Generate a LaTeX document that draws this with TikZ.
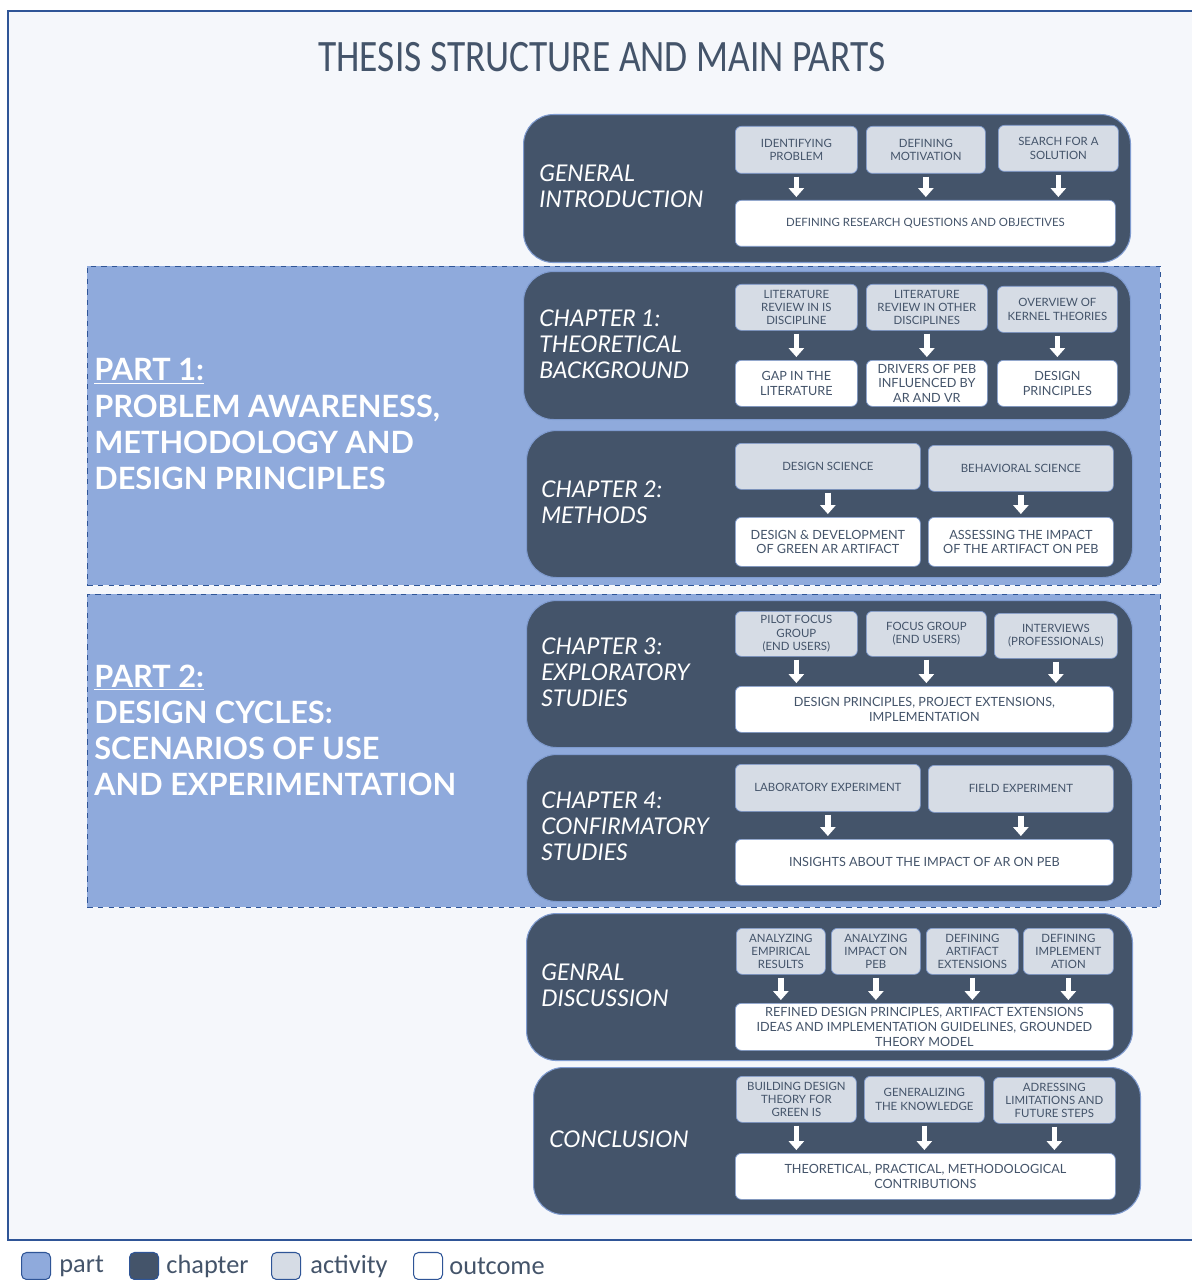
\documentclass[tikz,border=0pt]{standalone}
\usepackage{fontspec}
\setmainfont{Lato}
\newfontfamily\legendfont{Carlito}
\usepackage{tikz}
\usetikzlibrary{calc}
\usetikzlibrary{arrows.meta}
\usetikzlibrary{positioning}

\definecolor{partBlue}{HTML}{8FAADC}
\definecolor{chapterSlate}{HTML}{44546A}
\definecolor{activityGrey}{HTML}{D6DCE5}
\definecolor{frameBlue}{HTML}{2F5597}
\definecolor{paperTint}{HTML}{F5F7FB}
\definecolor{edgeBlue}{HTML}{7F9BCF}

\def\px{0.02cm}

\tikzset{
	sized/.style 2 args={minimum width=#1*\px, minimum height=#2*\px, inner sep=0pt, anchor=north west},
	chapterBox/.style={fill=chapterSlate, draw=edgeBlue, line width=0.6pt, rounded corners=0.6cm},
	activityBox/.style={fill=activityGrey, draw=edgeBlue, line width=0.4pt, rounded corners=0.12cm, text=chapterSlate, align=center, font=\fontsize{6.5}{7.6}\selectfont},
	outcomeBox/.style={fill=white, draw=edgeBlue, line width=0.4pt, rounded corners=0.12cm, text=chapterSlate, align=center, font=\fontsize{7.2}{8.4}\selectfont},
	chapterLabel/.style={text=white, anchor=west, inner sep=0pt, align=left, font=\itshape\fontsize{13.1}{14.8}\selectfont},
	partLabel/.style={text=white, anchor=west, inner sep=0pt, align=left, font=\bfseries\fontsize{17.5}{20.5}\selectfont},
	partArea/.style={fill=partBlue, draw=frameBlue, dashed, line width=0.5pt},
	flow/.style={draw=white, line width=3pt, -{Triangle[width=8.5pt,length=5pt]}, shorten <=0.06cm, shorten >=0.06cm},
	legendKey/.style={minimum width=29*\px, minimum height=27*\px, inner sep=0pt, rounded corners=0.1cm, draw=frameBlue, line width=0.6pt, anchor=west},
	legendText/.style={text=chapterSlate, inner sep=0pt, anchor=west, font=\legendfont\fontsize{15}{17}\selectfont}
}

\begin{document}
\begin{tikzpicture}[x=\px, y=-\px]

	\useasboundingbox (0,0) rectangle (1192,1280);

	% frame and title
	\fill [white] (0,0) rectangle (1192,1280);
	\draw [frameBlue, fill=paperTint, line width=0.6pt] (8,11) rectangle (1210,1240);
	\node (title) at (602,57) {\legendfont\color{chapterSlate}\fontsize{21.3}{24}\selectfont\scalebox{1}[1.2]{THESIS STRUCTURE AND MAIN PARTS}};

	% part areas
	\node [partArea, sized={1073}{319}] (partOneArea) at (87,266) {};
	\node [partArea, sized={1073}{313}] (partTwoArea) at (87,594) {};
	\node [partLabel] (partOneLabel) at (94,424) {\underline{PART 1:}\\PROBLEM AWARENESS,\\METHODOLOGY AND\\DESIGN PRINCIPLES};
	\node [partLabel] (partTwoLabel) at (94,730) {\underline{PART 2:}\\DESIGN CYCLES:\\SCENARIOS OF USE\\AND EXPERIMENTATION};

	% chapter boxes
	\node [chapterBox, sized={607}{148}] (introBox) at (523,114) {};
	\node [chapterBox, sized={607}{148}] (chOneBox) at (523,271) {};
	\node [chapterBox, sized={606}{147}] (chTwoBox) at (526,430) {};
	\node [chapterBox, sized={606}{147}] (chThreeBox) at (526,600) {};
	\node [chapterBox, sized={606}{147}] (chFourBox) at (526,754) {};
	\node [chapterBox, sized={606}{147}] (discussionBox) at (526,913) {};
	\node [chapterBox, sized={607}{147}] (conclusionBox) at (533,1067) {};

	% chapter labels
	\node [chapterLabel] (introLabel) at (539,186) {GENERAL\\INTRODUCTION};
	\node [chapterLabel] (chOneLabel) at (539,344) {CHAPTER 1:\\THEORETICAL\\BACKGROUND};
	\node [chapterLabel] (chTwoLabel) at (541,502) {CHAPTER 2:\\METHODS};
	\node [chapterLabel] (chThreeLabel) at (541,672) {CHAPTER 3:\\EXPLORATORY\\STUDIES};
	\node [chapterLabel] (chFourLabel) at (541,826) {CHAPTER 4:\\CONFIRMATORY\\STUDIES};
	\node [chapterLabel] (discussionLabel) at (541,985) {GENRAL\\DISCUSSION};
	\node [chapterLabel] (conclusionLabel) at (549,1139) {CONCLUSION};

	% general introduction
	\node [activityBox, sized={122}{47}] (introActA) at (735,126) {IDENTIFYING\\PROBLEM};
	\node [activityBox, sized={119}{47}] (introActB) at (866,126) {DEFINING\\MOTIVATION};
	\node [activityBox, sized={120}{46}] (introActC) at (998,125) {SEARCH FOR A\\SOLUTION};
	\node [outcomeBox, sized={380}{46}, font=\fontsize{6.5}{7.6}\selectfont] (introOut) at (735,200) {DEFINING RESEARCH QUESTIONS AND OBJECTIVES};
	\draw [flow] (introActA) -- (introActA |- introOut.north);
	\draw [flow] (introActB) -- (introActB |- introOut.north);
	\draw [flow] (introActC) -- (introActC |- introOut.north);

	% chapter 1
	\node [activityBox, sized={122}{46}] (chOneActA) at (735,284) {LITERATURE\\REVIEW IN IS\\DISCIPLINE};
	\node [activityBox, sized={121}{46}] (chOneActB) at (866,284) {LITERATURE\\REVIEW IN OTHER\\DISCIPLINES};
	\node [activityBox, sized={120}{46}] (chOneActC) at (997,286) {OVERVIEW OF\\KERNEL THEORIES};
	\node [outcomeBox, sized={122}{46}] (chOneOutA) at (735,360) {GAP IN THE\\LITERATURE};
	\node [outcomeBox, sized={121}{46}] (chOneOutB) at (866,360) {DRIVERS OF PEB\\INFLUENCED BY\\AR AND VR};
	\node [outcomeBox, sized={120}{46}] (chOneOutC) at (997,360) {DESIGN\\PRINCIPLES};
	\draw [flow] (chOneActA) -- (chOneOutA);
	\draw [flow] (chOneActB) -- (chOneOutB);
	\draw [flow] (chOneActC) -- (chOneOutC);

	% chapter 2
	\node [activityBox, sized={185}{46}] (chTwoActA) at (735,443) {DESIGN SCIENCE};
	\node [activityBox, sized={185}{46}] (chTwoActB) at (928,445) {BEHAVIORAL SCIENCE};
	\node [outcomeBox, sized={185}{49}] (chTwoOutA) at (735,517) {DESIGN \& DEVELOPMENT\\OF GREEN AR ARTIFACT};
	\node [outcomeBox, sized={185}{49}] (chTwoOutB) at (928,517) {ASSESSING THE IMPACT\\OF THE ARTIFACT ON PEB};
	\draw [flow] (chTwoActA) -- (chTwoOutA);
	\draw [flow] (chTwoActB) -- (chTwoOutB);

	% chapter 3
	\node [activityBox, sized={122}{45}] (chThreeActA) at (735,611) {PILOT FOCUS\\GROUP\\(END USERS)};
	\node [activityBox, sized={120}{45}] (chThreeActB) at (866,611) {FOCUS GROUP\\(END USERS)};
	\node [activityBox, sized={123}{45}] (chThreeActC) at (994,613) {INTERVIEWS\\(PROFESSIONALS)};
	\node [outcomeBox, sized={378}{46}] (chThreeOut) at (735,686) {DESIGN PRINCIPLES, PROJECT EXTENSIONS,\\IMPLEMENTATION};
	\draw [flow] (chThreeActA) -- (chThreeActA |- chThreeOut.north);
	\draw [flow] (chThreeActB) -- (chThreeActB |- chThreeOut.north);
	\draw [flow] (chThreeActC) -- (chThreeActC |- chThreeOut.north);

	% chapter 4
	\node [activityBox, sized={185}{47}] (chFourActA) at (735,764) {LABORATORY EXPERIMENT};
	\node [activityBox, sized={185}{47}] (chFourActB) at (928,765) {FIELD EXPERIMENT};
	\node [outcomeBox, sized={378}{46}] (chFourOut) at (735,839) {INSIGHTS ABOUT THE IMPACT OF AR ON PEB};
	\draw [flow] (chFourActA) -- (chFourActA |- chFourOut.north);
	\draw [flow] (chFourActB) -- (chFourActB |- chFourOut.north);

	% general discussion
	\node [activityBox, sized={89}{46}] (discActA) at (736,928) {ANALYZING\\EMPIRICAL\\RESULTS};
	\node [activityBox, sized={89}{46}] (discActB) at (831,928) {ANALYZING\\IMPACT ON\\PEB};
	\node [activityBox, sized={92}{46}] (discActC) at (926,928) {DEFINING\\ARTIFACT\\EXTENSIONS};
	\node [activityBox, sized={90}{46}] (discActD) at (1023,928) {DEFINING\\IMPLEMENT\\ATION};
	\node [outcomeBox, sized={378}{47}] (discOut) at (735,1003) {REFINED DESIGN PRINCIPLES, ARTIFACT EXTENSIONS\\IDEAS AND IMPLEMENTATION GUIDELINES, GROUNDED\\THEORY MODEL};
	\draw [flow] (discActA) -- (discActA |- discOut.north);
	\draw [flow] (discActB) -- (discActB |- discOut.north);
	\draw [flow] (discActC) -- (discActC |- discOut.north);
	\draw [flow] (discActD) -- (discActD |- discOut.north);

	% conclusion
	\node [activityBox, sized={120}{46}] (conclActA) at (736,1076) {BUILDING DESIGN\\THEORY FOR\\GREEN IS};
	\node [activityBox, sized={120}{46}] (conclActB) at (864,1076) {GENERALIZING\\THE KNOWLEDGE};
	\node [activityBox, sized={122}{46}] (conclActC) at (993,1077) {ADRESSING\\LIMITATIONS AND\\FUTURE STEPS};
	\node [outcomeBox, sized={380}{46}] (conclOut) at (735,1153) {THEORETICAL, PRACTICAL, METHODOLOGICAL\\CONTRIBUTIONS};
	\draw [flow] (conclActA) -- (conclActA |- conclOut.north);
	\draw [flow] (conclActB) -- (conclActB |- conclOut.north);
	\draw [flow] (conclActC) -- (conclActC |- conclOut.north);

	% legend
	\node [legendKey, fill=partBlue] (keyPart) at (21,1266) {};
	\node [legendText, right=0.16cm of keyPart] (textPart) {part};
	\node [legendKey, fill=chapterSlate] (keyChapter) at (129,1266) {};
	\node [legendText, right=0.14cm of keyChapter] (textChapter) {chapter};
	\node [legendKey, fill=activityGrey] (keyActivity) at (271,1266) {};
	\node [legendText, right=0.18cm of keyActivity] (textActivity) {activity};
	\node [legendKey, fill=white] (keyOutcome) at (413,1266) {};
	\node [legendText, right=0.12cm of keyOutcome] (textOutcome) {outcome};

\end{tikzpicture}
\end{document}
